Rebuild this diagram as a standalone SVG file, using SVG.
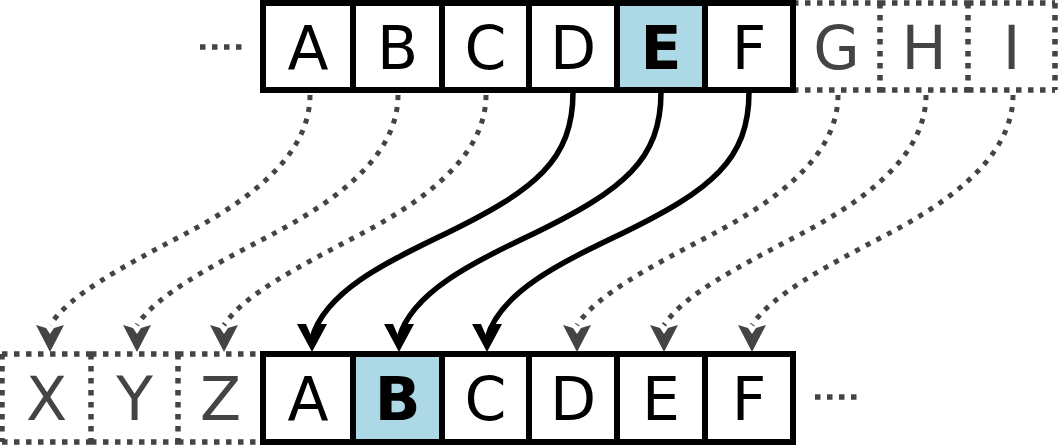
<svg xmlns="http://www.w3.org/2000/svg" width="1060" height="447" viewBox="0 0 1060 447">
  <defs>
    <style>
      .cell { fill: #ffffff; stroke: #000000; stroke-width: 6; }
      .hl { fill: #add8e6; }
      .dot { fill: none; stroke: #444444; stroke-width: 5.5; stroke-dasharray: 5.5 6.5; }
      .lbl { font-family: "DejaVu Sans", "Liberation Sans", sans-serif; font-size: 60px; text-anchor: middle; fill: #000000; }
      .gray { fill: #444444; }
      .bold { font-weight: bold; }
      .solid { fill: none; stroke: #000000; stroke-width: 5.5; }
      .dcon { fill: none; stroke: #444444; stroke-width: 5; stroke-dasharray: 5 7; }
    </style>
    <marker id="arrS" markerUnits="userSpaceOnUse" orient="90" refX="0" refY="0" markerWidth="60" markerHeight="60" overflow="visible">
      <path d="M14,0 L-14,-15 L-14,-6 L0,0 L-14,6 L-14,15 Z" fill="#000000"/>
    </marker>
    <marker id="arrD" markerUnits="userSpaceOnUse" orient="90" refX="0" refY="0" markerWidth="60" markerHeight="60" overflow="visible">
      <path d="M27,0 L0,-14 L3,-4 L9,0 L3,4 L0,14 Z" fill="#444444"/>
    </marker>
  </defs>
  <rect x="0" y="0" width="1060" height="447" fill="#ffffff"/>

  <!-- ellipses -->
  <path class="dot" d="M200,47 H246"/>
  <path class="dot" d="M815,397 H861"/>

  <!-- top row, dotted cells -->
  <g id="top-G">
    <path class="dot" d="M793,3 H880 M793,90 H880 M880,3 V90"/>
    <text class="lbl gray" x="836.5" y="69">G</text>
  </g>
  <g id="top-H">
    <path class="dot" d="M880,3 H968 M880,90 H968 M968,3 V90"/>
    <text class="lbl gray" x="924" y="69">H</text>
  </g>
  <g id="top-I">
    <path class="dot" d="M968,3 H1055 M968,90 H1055 M1055,3 V90"/>
    <text class="lbl gray" x="1011.5" y="69">I</text>
  </g>

  <!-- top row, solid cells -->
  <g id="top-A"><rect class="cell" x="263" y="3" width="90" height="87"/><text class="lbl" x="308" y="69">A</text></g>
  <g id="top-B"><rect class="cell" x="353" y="3" width="89" height="87"/><text class="lbl" x="397.5" y="69">B</text></g>
  <g id="top-C"><rect class="cell" x="442" y="3" width="87" height="87"/><text class="lbl" x="485.5" y="69">C</text></g>
  <g id="top-D"><rect class="cell" x="529" y="3" width="88" height="87"/><text class="lbl" x="573" y="69">D</text></g>
  <g id="top-E"><rect class="cell hl" x="617" y="3" width="88" height="87"/><text class="lbl bold" x="661" y="69">E</text></g>
  <g id="top-F"><rect class="cell" x="705" y="3" width="88" height="87"/><text class="lbl" x="749" y="69">F</text></g>

  <!-- bottom row, dotted cells -->
  <g id="bot-X">
    <path class="dot" d="M2,354 V442 M2,354 H91 M2,442 H91 M91,354 V442"/>
    <text class="lbl gray" x="46.5" y="420">X</text>
  </g>
  <g id="bot-Y">
    <path class="dot" d="M91,354 H178 M91,442 H178 M178,354 V442"/>
    <text class="lbl gray" x="134.5" y="420">Y</text>
  </g>
  <g id="bot-Z">
    <path class="dot" d="M178,354 H263 M178,442 H263"/>
    <text class="lbl gray" x="220.5" y="420">Z</text>
  </g>

  <!-- bottom row, solid cells -->
  <g id="bot-A"><rect class="cell" x="263" y="354" width="90" height="88"/><text class="lbl" x="308" y="420">A</text></g>
  <g id="bot-B"><rect class="cell hl" x="353" y="354" width="89" height="88"/><text class="lbl bold" x="397.5" y="420">B</text></g>
  <g id="bot-C"><rect class="cell" x="442" y="354" width="87" height="88"/><text class="lbl" x="485.5" y="420">C</text></g>
  <g id="bot-D"><rect class="cell" x="529" y="354" width="88" height="88"/><text class="lbl" x="573" y="420">D</text></g>
  <g id="bot-E"><rect class="cell" x="617" y="354" width="88" height="88"/><text class="lbl" x="661" y="420">E</text></g>
  <g id="bot-F"><rect class="cell" x="705" y="354" width="88" height="88"/><text class="lbl" x="749" y="420">F</text></g>

  <!-- connectors -->
  <g id="connectors">
    <path class="dcon" marker-end="url(#arrD)" d="M310,95 C310,160 240,205 183,235 C120,268 70,295 50,325"/>
    <path class="dcon" marker-end="url(#arrD)" d="M398,95 C398,160 328,205 271,235 C208,268 157,295 137,325"/>
    <path class="dcon" marker-end="url(#arrD)" d="M486,95 C486,160 416,205 359,235 C296,268 244,295 224,325"/>
    <path class="solid" marker-end="url(#arrS)" d="M573,92 C573,160 535,190 447,233 C384,263 325,292 312,338"/>
    <path class="solid" marker-end="url(#arrS)" d="M661,92 C661,160 623,190 535,233 C472,263 412,292 399,338"/>
    <path class="solid" marker-end="url(#arrS)" d="M749,92 C749,160 711,190 623,233 C560,263 500,292 487,338"/>
    <path class="dcon" marker-end="url(#arrD)" d="M838,95 C838,160 768,205 711,235 C648,268 597,295 577,325"/>
    <path class="dcon" marker-end="url(#arrD)" d="M926,95 C926,160 856,205 799,235 C736,268 684,295 664,325"/>
    <path class="dcon" marker-end="url(#arrD)" d="M1013,95 C1013,160 943,205 886,235 C823,268 772,295 752,325"/>
  </g>
</svg>
